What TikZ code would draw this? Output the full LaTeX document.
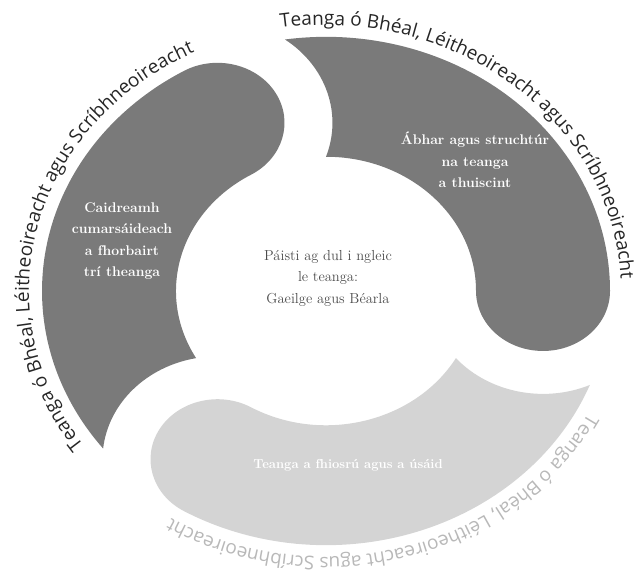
\documentclass[tikz,border=0pt]{standalone}
\usepackage{fontspec}
\newfontfamily\ringfont{Open Sans}
\usetikzlibrary{decorations.text}
\tikzset{
  blobdark/.style={fill=black!52},
  bloblight/.style={fill=black!17},
  blobtext/.style={text=white, font=\bfseries\fontsize{14}{21.5}\selectfont, align=center},
  lighttext/.style={text=white, font=\bfseries\fontsize{13}{20}\selectfont, align=center},
  centertext/.style={text=black!70, font=\fontsize{14.5}{21.5}\selectfont, align=center},
  ringtext/.style={decorate, decoration={text along path, text align=center,
    text={|\ringfont\fontsize{19}{20}\selectfont\color{#1}|Teanga ó Bhéal, Léitheoireacht agus Scríbhneoireacht}}},
}
\newcommand\ringblob[2]{%
  \fill[#2] ({#1+98.3}:284pt) arc[start angle={#1+98.3}, end angle={#1}, radius=284pt]
    arc[start angle={#1}, end angle={#1-180}, radius=67pt]
    arc[start angle={#1}, end angle={#1+90}, radius=150pt]
    arc[start angle={#1-19.27}, end angle={#1+54.06}, radius=115pt] -- cycle;}
\begin{document}
\begin{tikzpicture}[x=1pt,y=1pt]
\useasboundingbox (0,0) rectangle (634,582);
% ring of three blobs
\begin{scope}[shift={(326,291)}, yscale=0.895]
  \ringblob{120}{blobdark}
  \ringblob{0}{blobdark}
  \ringblob{240}{bloblight}
\end{scope}
% curved outer texts
\begin{scope}[shift={(325,291)}]
  \path[ringtext=black!85] (226:296pt and 266pt) arc[start angle=226, end angle=106, x radius=296pt, y radius=266pt];
  \path[ringtext=black!85] (110:296pt and 266pt) arc[start angle=110, end angle=-10, x radius=296pt, y radius=266pt];
  \path[ringtext=black!28] (-14:296pt and 266pt) arc[start angle=-14, end angle=-134, x radius=296pt, y radius=266pt];
\end{scope}
% labels
\node[blobtext] (comm) at (122,341) {Caidreamh\\cumarsáideach\\a fhorbairt\\trí theanga};
\node[blobtext] (struct) at (475,422) {Ábhar agus struchtúr\\na teanga\\a thuiscint};
\node[lighttext] (explore) at (348,117) {Teanga a fhiosrú agus a úsáid};
\node[centertext] (child) at (328,304) {Páisti ag dul i ngleic\\le teanga:\\Gaeilge agus Béarla};
\end{tikzpicture}
\end{document}
